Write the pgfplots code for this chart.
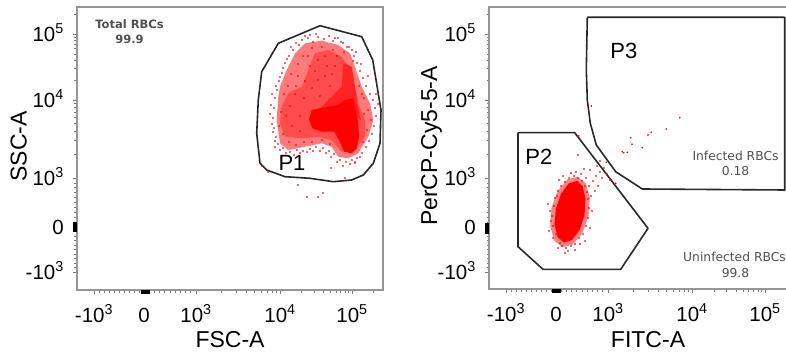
\documentclass[border=0pt]{standalone}
\usepackage{fontspec}
\setmainfont{Liberation Sans}
\newfontfamily\lucida{DejaVu Sans}
\usepackage{pgfplots}
\pgfplotsset{compat=1.18}
\definecolor{framegray}{RGB}{150,150,150}
\definecolor{tickgray}{RGB}{120,120,120}
\definecolor{gategray}{RGB}{40,40,40}
\definecolor{txtgray}{RGB}{80,80,80}
\pgfplotsset{flowaxis/.style={
  scale only axis,
  axis line style={framegray, line width=1.1pt},
  tick align=outside, xtick pos=bottom, ytick pos=left,
  major tick length=4pt, minor tick length=2.5pt,
  tick style={tickgray, line width=0.7pt},
  ytick={84,129,178,256,322},
  yticklabels={-10\textsuperscript{3},0,10\textsuperscript{3},10\textsuperscript{4},10\textsuperscript{5}},
  minor ytick={88.5,93,97.5,102,106.5,111,115.5,120,124.5,133.9,138.8,143.7,148.6,153.5,158.4,163.3,168.2,173.1,201.5,215.2,225,232.5,238.7,243.9,248.4,252.4,275.9,287.5,295.7,302.1,307.4,311.8,315.6,319,341.9},
  xticklabels={-10\textsuperscript{3},0,10\textsuperscript{3},10\textsuperscript{4},10\textsuperscript{5}},
  tick label style={font=\fontsize{20.5}{24}\selectfont, inner sep=0pt},
  xticklabel style={anchor=base, yshift=-28pt},
  yticklabel style={anchor=base east, xshift=-9pt, yshift=-7.2pt},
  label style={font=\fontsize{23}{27}\selectfont},
  clip=true,
  events/.style={only marks, mark=*, mark size=0.6pt, mark options={draw=none, fill=red}, color=red},
  gate/.style={gategray, line width=1.6pt, line join=round, mark=none},
}}
\begin{document}
\begin{tikzpicture}
\useasboundingbox (0,0) rectangle (786pt,356pt);
% ---------------- left panel ----------------
\begin{axis}[flowaxis,
  at={(77pt,66pt)}, anchor=south west,
  width=306pt, height=283pt,
  xmin=77, xmax=383, ymin=66, ymax=349,
  xtick={94,144,196,280,352},
  minor xtick={99,104,109,114,119,124,129,134,139,149.2,154.4,159.6,164.8,170,175.2,180.4,185.6,190.8,221.3,236.1,246.6,254.7,261.4,267,271.9,276.2,301.7,314.4,323.3,330.3,336,340.8,345,348.7,373.7},
  extra x ticks={141,142,143,144,145,146,147,148,149},
  extra y ticks={124,125,126,127,128,129,130,131,132,133},
  extra tick style={major tick length=4pt, tick style={black, line width=1pt}, xticklabel={}, yticklabel={}},
  xlabel={FSC-A}, ylabel={SSC-A},
  xlabel style={at={(axis description cs:0.5,0)}, anchor=base, yshift=-57.7pt},
  ylabel style={at={(axis description cs:-0.1644,0.507)}, anchor=base},
]
% density layers of the RBC cloud
\addplot[draw=none, fill=red!52] coordinates {(278.3,259.3) (280,269.3) (286.7,286) (295,302.7) (305,312.7) (321.7,315.3) (338.3,311) (350,302.7) (355,289.3) (361.7,269.3) (370,252.7) (373.3,236) (368.3,219.3) (358.3,202.7) (348.3,197.7) (338.3,199.3) (331.7,209.3) (321.7,212.7) (305,209.3) (288.3,206) (280,212.7) (276.7,236)} -- cycle;
\addplot[draw=none, fill=red!70] coordinates {(281.7,249.3) (288.3,262.7) (301.7,269.3) (308.3,286) (315,302.7) (328.3,306) (341.7,299.3) (351.7,286) (355,269.3) (358.3,252.7) (365,236) (365,219.3) (355,206) (341.7,204.3) (331.7,216) (318.3,219.3) (301.7,217.7) (285,219.3) (280,232.7)} -- cycle;
\addplot[draw=none, fill=red!86] coordinates {(343.3,292.7) (351.7,289.3) (355,269.3) (358,249.3) (361,236) (345,246) (328,244) (312,240) (341.7,269.3)} -- cycle;
\addplot[draw=none, fill=red] coordinates {(311.7,246) (325,248.7) (338.3,251) (345,256) (353.3,257.7) (355.7,246) (358.3,232.7) (359,219.3) (356.7,207.7) (351.7,202.7) (344.3,204.3) (339,216) (334.3,224.3) (321.7,224.3) (312.3,227.7) (309,236.7)} -- cycle;
% scattered events
\addplot[events] coordinates {(302,316) (308,318) (313,314) (318,319) (324,317) (329,320) (333,315) (338,318) (343,313) (347,309) (299,311) (293,306) (289,300) (285,293) (282,283) (279,275) (277,266) (275,258) (274,248) (273,238) (274,228) (276,219) (278,212) (283,208) (290,204) (297,206) (303,205) (310,207) (316,209) (323,208) (329,205) (334,202) (340,196) (346,194) (352,196) (357,198) (362,203) (366,209) (369,215) (372,222) (374,230) (376,240) (375,248) (373,256) (370,262) (366,270) (363,278) (360,285) (357,293) (354,300) (352,306) (364,258) (368,246) (371,236) (378,252) (376,262) (368,280) (361,292) (356,304) (349,309) (341,314) (335,318) (316,322) (310,321) (305,320) (296,313) (291,309) (287,297) (283,288) (280,279) (276,270) (272,262) (271,251) (270,242) (272,232) (273,224) (275,215) (280,206) (286,203) (294,201) (300,203) (307,204) (313,205) (320,205) (326,203) (331,199) (337,194) (343,190) (350,192) (355,194) (360,199)
(290,250) (295,262) (300,240) (305,275) (310,290) (318,296) (325,280) (330,270) (320,260) (315,285) (335,290) (300,225) (292,230) (286,240) (345,230) (350,220) (325,300) (308,300) (298,280) (288,270)
(284,262) (281,244) (279,230) (283,222) (289,214) (296,211) (304,214) (312,214) (322,216) (330,212) (298,292) (303,300) (312,308) (322,309) (333,306) (344,304) (291,282) (296,270) (304,258) (312,268) (318,276) (327,290) (332,282) (337,300) (364,242) (367,226) (363,214) (359,270) (362,262) (353,295)
(298,171) (307,159) (318,159) (323,163) (262,190) (268,184) (331,188) (345,178) (355,193) (275,209)};
% gate P1
\addplot[gate] coordinates {(278.3,312.7) (320,330.3) (361.7,319.3) (372.7,296) (381,246) (380,212.7) (373.3,192.7) (363.3,181) (351.7,176) (333.3,174.3) (310,177.7) (285,179.3) (266.7,186) (260,192.7) (256.7,222.7) (258.3,256) (261.7,284.3) (278.3,312.7)};
\node[anchor=base, font=\fontsize{22}{26}\selectfont] at (axis cs:292,185.3) {P1};
\node[anchor=base, font=\lucida\bfseries\fontsize{11.5}{13}\selectfont, text=txtgray] at (axis cs:129.5,327.5) {Total RBCs};
\node[anchor=base, font=\lucida\bfseries\fontsize{11.5}{13}\selectfont, text=txtgray] at (axis cs:129.5,312.7) {99.9};
\end{axis}
% ---------------- right panel ----------------
\begin{axis}[flowaxis,
  at={(489pt,67pt)}, anchor=south west,
  width=307pt, height=282pt,
  xmin=489, xmax=796, ymin=67, ymax=349,
  xtick={506,556,608,692,765},
  minor xtick={511,516,521,526,531,536,541,546,551,561.2,566.4,571.6,576.8,582,587.2,592.4,597.6,602.8,633.3,648.1,658.6,666.7,673.4,679,683.9,688.2,714,726.8,735.9,743,748.8,753.7,757.9,761.6,787},
  extra x ticks={552,553,554,555,556,557,558,559,560},
  extra y ticks={123,124,125,126,127,128,129,130,131,132},
  extra tick style={major tick length=4pt, tick style={black, line width=1pt}, xticklabel={}, yticklabel={}},
  xlabel={FITC-A}, ylabel={PerCP-Cy5-5-A},
  xlabel style={at={(axis description cs:0.518,0)}, anchor=base, yshift=-58.7pt},
  ylabel style={at={(axis description cs:-0.169,0.507)}, anchor=base},
]
\addplot[draw=none, fill=red!50] coordinates {(577.5,179.2) (585.8,172.5) (589.8,158.2) (588.6,140.1) (582.4,123) (572.8,111.5) (562.5,108.8) (554.2,115.5) (550.2,129.8) (551.4,148) (557.7,165) (567.2,176.5)} -- cycle;
\addplot[draw=none, fill=red] coordinates {(577,175) (582.8,169.5) (585.5,157) (584.5,141) (579.5,126) (572,116) (563.8,113.5) (557.5,119) (554.5,131.7) (555.8,147) (561,162) (568.5,172.5)} -- cycle;
\addplot[events] coordinates {(552,140) (553,130) (554,150) (556,122) (555,158) (558,165) (560,113) (562,110) (566,108) (571,110) (575,112) (579,118) (583,122) (586,130) (588,138) (589,148) (588,157) (587,164) (585,170) (582,175) (578,178) (574,180) (569,178) (565,174) (561,170) (557,160) (551,135) (550,145) (553,118) (558,108) (568,105) (580,112) (590,128) (592,145) (591,160) (589,170) (586,178) (581,182) (576,184) (571,183) (593,175) (596,180) (600,184) (604,188) (598,170) (595,165) (602,178) (607,182) (610,176) (597,190) (590,186) (584,187) (600,195) (563,180) (559,176) (549,125) (548,152) (565,103) (575,106) (585,115)
(591.3,250) (606.3,193.7) (615.7,172.7) (622.3,204.3) (627.3,203.7) (630.7,218.3) (632,211.7) (642.3,208.3) (648,221) (651.3,223.7) (666.3,227) (679.7,238.3) (578.7,220) (578,201) (623.7,203.3)};
% gates P2 and P3
\addplot[gate] coordinates {(518,223.3) (574.7,223.3) (648,127.7) (620.7,86.7) (543,86.7) (518,109.3) (518,223.3)};
\addplot[gate] coordinates {(587.3,338.7) (784.7,338.7) (784.7,166) (642.3,167) (615.7,184.3) (596.3,211) (590.3,232.7) (587.3,256) (586.3,286) (587.3,338.7)};
\node[anchor=base, font=\fontsize{22}{26}\selectfont] at (axis cs:538.8,191) {P2};
\node[anchor=base, font=\fontsize{22}{26}\selectfont] at (axis cs:623.8,297.7) {P3};
\node[anchor=base, font=\lucida\fontsize{12.3}{14}\selectfont, text=txtgray] at (axis cs:735.5,195.3) {Infected RBCs};
\node[anchor=base, font=\lucida\fontsize{12.3}{14}\selectfont, text=txtgray] at (axis cs:735.5,180) {0.18};
\node[anchor=base, font=\lucida\fontsize{12.3}{14}\selectfont, text=txtgray] at (axis cs:734.5,94.3) {Uninfected RBCs};
\node[anchor=base, font=\lucida\fontsize{12.3}{14}\selectfont, text=txtgray] at (axis cs:735.5,78.7) {99.8};
\end{axis}
\end{tikzpicture}
\end{document}
